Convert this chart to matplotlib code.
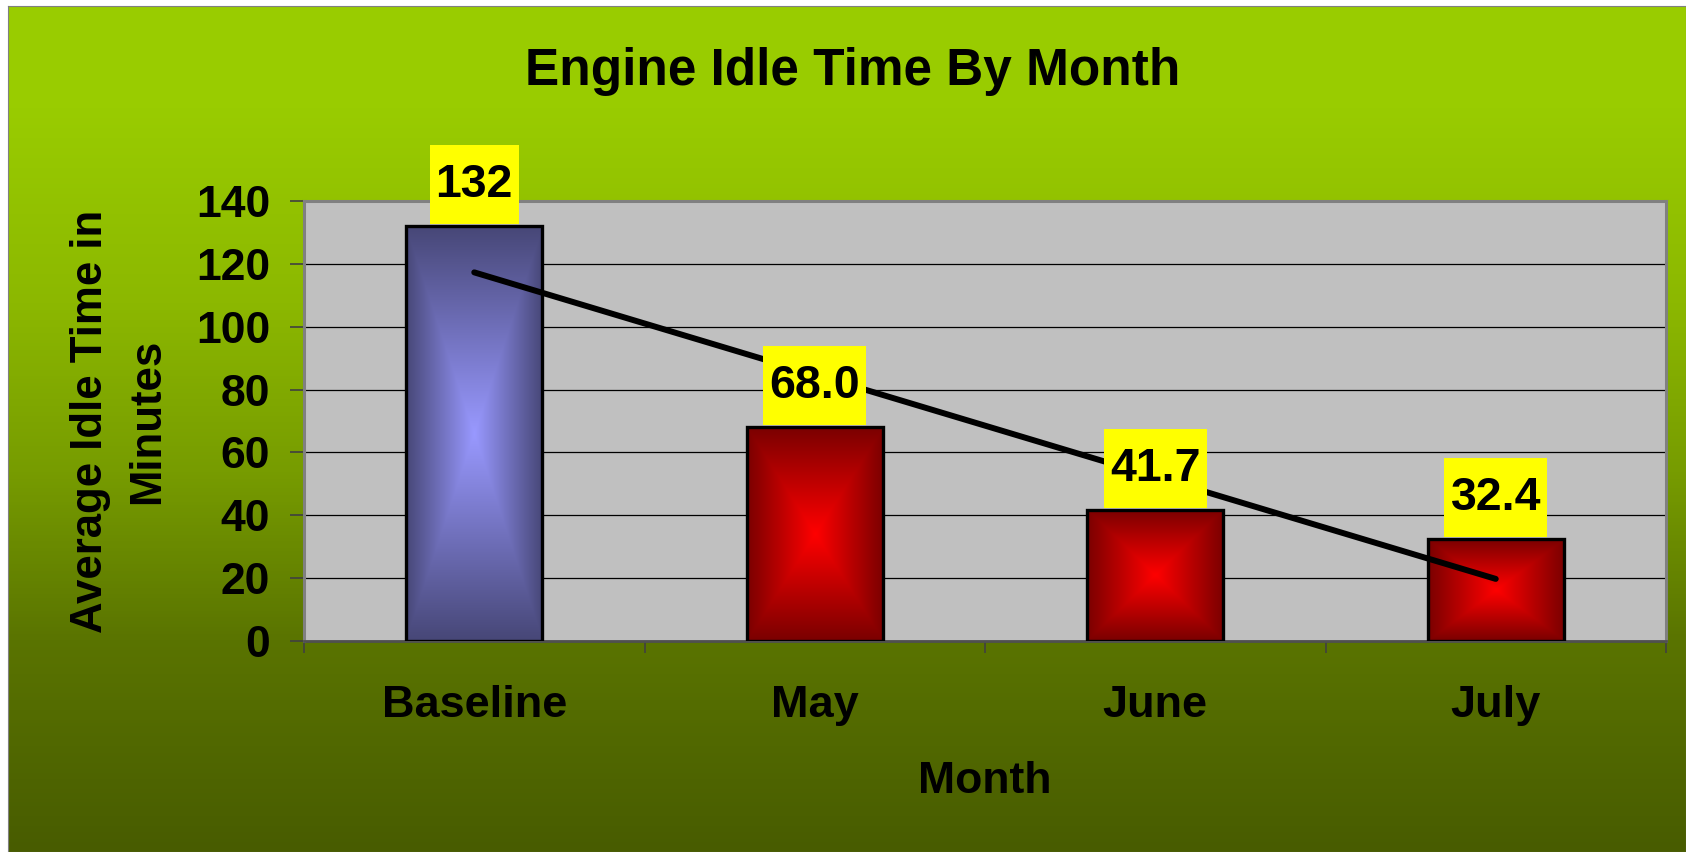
import numpy as np
import matplotlib
matplotlib.use('Agg')
import matplotlib.pyplot as plt
from matplotlib.colors import LinearSegmentedColormap, to_rgb
from matplotlib.patches import Rectangle
from matplotlib.transforms import IdentityTransform

months = ['Baseline', 'May', 'June', 'July']
idle_minutes = [132.0, 68.0, 41.7, 32.4]
value_labels = ['132', '68.0', '41.7', '32.4']
y_ticks = [0, 20, 40, 60, 80, 100, 120, 140]

plt.rcParams['font.family'] = ['Liberation Sans', 'DejaVu Sans']
plt.rcParams['font.weight'] = 'bold'

W, H, DPI = 1686, 852, 100
PX = 72.0 / DPI  # points per pixel


def box_gradient(center, edge, n=240):
    # rectangular "from centre" gradient, light in the middle, dark at the rim
    u = np.linspace(-1, 1, n)
    t = np.maximum(np.abs(u)[None, :], np.abs(u)[:, None])
    c, e = np.array(to_rgb(center)), np.array(to_rgb(edge))
    return c + (e - c) * t[..., None]


fig = plt.figure(figsize=(W / DPI, H / DPI), dpi=DPI, facecolor='white')

# green backdrop
bg = fig.add_axes([8 / W, 0, 1 - 8 / W, 1 - 6 / H], zorder=0)
green = LinearSegmentedColormap.from_list('green', [
    (0.0, '#99cc00'), (0.12, '#99cc00'), (0.35, '#8cb800'),
    (0.55, '#779c00'), (0.75, '#5a7400'), (1.0, '#485c00')])
bg.imshow(np.linspace(0, 1, 256).reshape(-1, 1), cmap=green, aspect='auto',
          extent=(0, 1, 0, 1), origin='upper')
bg.set_xticks([])
bg.set_yticks([])
for s in bg.spines.values():
    s.set_color('#808080')
    s.set_linewidth(0.8)

left, right, top, bottom = 304, 1666, 201, 641
ax = fig.add_axes([left / W, 1 - bottom / H, (right - left) / W, (bottom - top) / H], zorder=1)
ax.set_facecolor('#c0c0c0')

x = np.arange(len(months))
bars = ax.bar(x, idle_minutes, width=0.4, facecolor='none', edgecolor='black',
              linewidth=2.4, zorder=3)
for i, bar in enumerate(bars):
    center, edge = ('#9999ff', '#474777') if i == 0 else ('#ff0000', '#7a0000')
    ax.imshow(box_gradient(center, edge), aspect='auto', zorder=2,
              extent=(bar.get_x(), bar.get_x() + bar.get_width(), 0, bar.get_height()))

# linear trendline
slope, intercept = np.polyfit(x, idle_minutes, 1)
ax.plot(x, slope * x + intercept, color='black', lw=4.3, solid_capstyle='round', zorder=4)

texts = []
for xi, v, lab in zip(x, idle_minutes, value_labels):
    t = ax.annotate(lab, (xi, v), xytext=(0, 29 * PX), textcoords='offset points',
                    ha='center', va='baseline', fontsize=33.5, fontweight='bold', zorder=6)
    texts.append(t)

ax.set_xlim(-0.5, len(months) - 0.5)
ax.set_ylim(0, 140)
ax.set_yticks(y_ticks)
ax.yaxis.grid(True, color='black', lw=0.9)
ax.set_axisbelow(True)
ax.tick_params(axis='y', length=10, width=1.2, color='#404040', pad=14.4, labelsize=32)

ax.set_xticks(np.arange(len(months) + 1) - 0.5)
ax.set_xticklabels([])
ax.set_xticks(x, minor=True)
ax.set_xticklabels(months, minor=True)
ax.tick_params(axis='x', which='major', length=8.6, width=1.2, color='#404040')
ax.tick_params(axis='x', which='minor', length=0, pad=31.5, labelsize=32.5)

for s in ['top', 'right', 'left']:
    ax.spines[s].set_color('#808080')
    ax.spines[s].set_linewidth(2.2)
ax.spines['bottom'].set_color('#505050')
ax.spines['bottom'].set_linewidth(2)

ax.set_ylabel('Average Idle Time in\nMinutes', fontsize=31.5, fontweight='bold',
              labelpad=20, linespacing=1.5)
ax.set_xlabel('Month', fontsize=32, fontweight='bold', labelpad=25.5)
fig.text(853 / W, 1 - 85 / H, 'Engine Idle Time By Month', ha='center', va='baseline',
         fontsize=37, fontweight='bold')

# yellow label boxes sitting on the bar tops
fig.canvas.draw()
for t, xi, v in zip(texts, x, idle_minutes):
    bb = t.get_window_extent()
    bar_top = ax.transData.transform((xi, v))[1]
    ax.add_patch(Rectangle((bb.x0 - 6, bar_top + 2), bb.width + 12, 79,
                           transform=IdentityTransform(), facecolor='#ffff00',
                           edgecolor='none', zorder=5, clip_on=False))

fig.savefig('out.png', dpi=DPI)
